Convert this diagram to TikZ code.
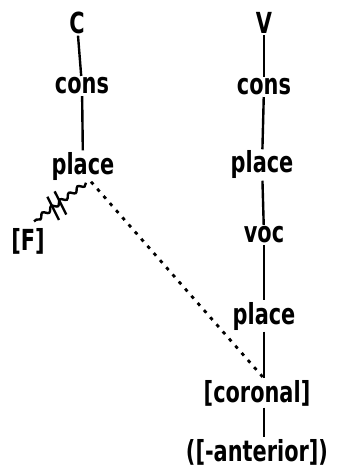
\documentclass[tikz,border=0pt]{standalone}
\usepackage{fontspec}
\newfontfamily\labfont{DejaVu Sans}[FakeStretch=0.72]
\usetikzlibrary{calc,decorations.pathmorphing}
\tikzset{
  lab/.style={inner sep=1.5pt, font=\labfont\bfseries\fontsize{29}{29}\selectfont},
  assoc/.style={line width=2.4pt},
  linkdot/.style={line width=2.8pt, dash pattern=on 3.5pt off 6pt},
  delink/.style={line width=2.4pt, decorate,
    decoration={snake, amplitude=2.2pt, segment length=11pt}},
}
\begin{document}
\begin{tikzpicture}[x=1pt,y=-1pt]
  \useasboundingbox (0,0) rectangle (340,470);

  % left tree: the consonant
  \node[lab] (C)     at (77,23)  {C};
  \node[lab] (consL) at (82,86)  {cons};
  \node[lab] (placeL) at (83,166) {place};
  \node[lab] (F)     at (28,241) {[F]};

  % right tree: the vowel
  \node[lab] (V)      at (264,23)  {V};
  \node[lab] (consR)  at (264,87)  {cons};
  \node[lab] (placeR) at (262,165) {place};
  \node[lab] (voc)    at (264,235) {voc};
  \node[lab] (placeR2) at (264,316) {place};
  \node[lab] (cor)    at (257,393) {[coronal]};
  \node[lab] (ant)    at (257,452) {([-anterior])};

  % association lines
  \draw[assoc] (C) -- (consL);
  \draw[assoc] (consL) -- (placeL);
  \draw[assoc] (V) -- (consR);
  \draw[assoc] (consR) -- (placeR);
  \draw[assoc] (placeR) -- (voc);
  \draw[assoc] (voc) -- (placeR2);
  \draw[assoc] (placeR2) -- (placeR2 |- cor.north);
  \draw[assoc] (cor.south -| placeR2) -- (ant.north -| placeR2);

  % delinked place feature
  \coordinate (s) at ([xshift=3pt,yshift=-1pt]placeL.south);
  \coordinate (e) at ([xshift=6pt,yshift=5pt]F.north);
  \draw[delink] (s) -- (e);
  \draw[assoc] ($(s)!0.50!(e)!14pt!80:(e)$) -- ($(s)!0.50!(e)!12pt!-100:(e)$);
  \draw[assoc] ($(s)!0.64!(e)!14pt!80:(e)$) -- ($(s)!0.64!(e)!12pt!-100:(e)$);

  % spreading of coronal
  \draw[linkdot] ([xshift=8pt]placeL.south) -- (cor.north -| placeR2);
\end{tikzpicture}
\end{document}
